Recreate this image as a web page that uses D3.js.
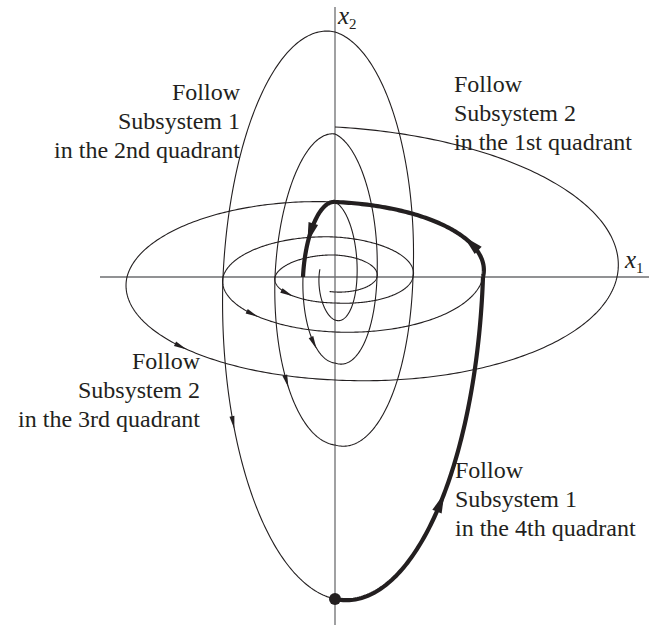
<!DOCTYPE html>
<html>
<head>
<meta charset="utf-8">
<script src="https://cdn.jsdelivr.net/npm/d3@7"></script>
<style>
    body { margin: 0; background: #fff; }
    text { font-family: "Liberation Serif", "DejaVu Serif", serif; fill: #231f20; }
</style>
</head>
<body>
<script>
// axis intercepts of each trajectory, read counter-clockwise.
// intercept number k sits at angle k*pi/2 (even k on x1, odd k on x2)
var sub1First = 2;   // first intercept on the negative x1 axis
var sub1Cross = [1.6, 4.3, 2.2, 7.5, 3.2, 8.6, 4.2, 14.3, 6.0, 16.8, 7.8, 24.5, 11.2, 32.2, 14.8];
var sub2First = 3;   // first intercept on the negative x2 axis
var sub2Cross = [1.5, 4.2, 2.2, 6.0, 2.6, 7.8, 4.0, 11.2, 5.5, 14.8, 7.5, 20.8, 10.3, 28.2, 15.0];

// thin curves, from k to k
var sub1Span = [1.84, 15];
var sub2Span = [2.9, 17];

// switched trajectory: [subsystem, from k, to k]
var switchedPath = [[1, 15, 16], [2, 12, 13], [1, 5, 6]];

// arrow heads: [subsystem, k]
var thinArrows = [[1, 6.58], [1, 10.45], [1, 14.33], [2, 6.46], [2, 10.52], [2, 14.52]];
var thickArrows = [[1, 15.55], [2, 12.33], [1, 5.62]];

var startPoint = [0, -32.2];

var labelTexts = [
    ['Follow', 'Subsystem 1', 'in the 2nd quadrant'],
    ['Follow', 'Subsystem 2', 'in the 1st quadrant'],
    ['Follow', 'Subsystem 2', 'in the 3rd quadrant'],
    ['Follow', 'Subsystem 1', 'in the 4th quadrant']
];

var width = 649, height = 630;
var x = d3.scaleLinear().domain([-23.5, 31.4]).range([100, 649]);
var y = d3.scaleLinear().domain([-34.8, 27]).range([625, 7]);

var svg = d3.select('body').append('svg').attr('width', width).attr('height', height);

// spiral through the intercepts: amplitudes grow geometrically between them
function spiral(cross, first) {
    function amp(k, parity) {
        var ks = [], vs = [];
        cross.forEach(function(v, i) {
            if ((first + i) % 2 === parity) { ks.push(first + i); vs.push(v); }
        });
        var j = 0;
        while (j < ks.length - 2 && k > ks[j + 1]) j++;
        var t = (k - ks[j]) / (ks[j + 1] - ks[j]);
        return vs[j] * Math.pow(vs[j + 1] / vs[j], t);
    }
    return function(k) {
        var th = k * Math.PI / 2;
        return [amp(k, 0) * Math.cos(th), amp(k, 1) * Math.sin(th)];
    };
}
var systems = { 1: spiral(sub1Cross, sub1First), 2: spiral(sub2Cross, sub2First) };

function sample(f, k0, k1) {
    var pts = d3.range(k0, k1, 0.01).map(f);
    pts.push(f(k1));
    return pts;
}
var line = d3.line().x(function(d) { return x(d[0]); }).y(function(d) { return y(d[1]); });

// axes
svg.append('line')
    .attr('x1', x(x.domain()[0])).attr('x2', x(x.domain()[1]))
    .attr('y1', y(0)).attr('y2', y(0))
    .attr('stroke', '#6d6e70').attr('stroke-width', 1.3);
svg.append('line')
    .attr('x1', x(0)).attr('x2', x(0))
    .attr('y1', y(y.domain()[1])).attr('y2', y(y.domain()[0]))
    .attr('stroke', '#6d6e70').attr('stroke-width', 1.3);

// thin trajectories of each subsystem
[[1, sub1Span], [2, sub2Span]].forEach(function(s) {
    svg.append('path')
        .attr('d', line(sample(systems[s[0]], s[1][0], s[1][1])))
        .attr('fill', 'none').attr('stroke', '#231f20').attr('stroke-width', 1.1);
});

// switched trajectory
switchedPath.forEach(function(p) {
    svg.append('path')
        .attr('d', line(sample(systems[p[0]], p[1], p[2])))
        .attr('fill', 'none').attr('stroke', '#231f20').attr('stroke-width', 4.2);
});

function arrow(a, len, w) {
    var f = systems[a[0]];
    var p = f(a[1]), q = f(a[1] + 0.01);
    var ang = Math.atan2(y(q[1]) - y(p[1]), x(q[0]) - x(p[0])) * 180 / Math.PI;
    svg.append('path')
        .attr('d', 'M' + len / 2 + ',0L' + (-len / 2) + ',' + (-w / 2) + 'L' + (-len / 2) + ',' + (w / 2) + 'Z')
        .attr('transform', 'translate(' + x(p[0]) + ',' + y(p[1]) + ') rotate(' + ang + ')')
        .attr('fill', '#231f20');
}
thinArrows.forEach(function(a) { arrow(a, 13, 5); });
thickArrows.forEach(function(a) { arrow(a, 20, 10); });

svg.append('circle')
    .attr('cx', x(startPoint[0])).attr('cy', y(startPoint[1])).attr('r', 6)
    .attr('fill', '#231f20');

// labels
var labelPos = [
    { x: 240, y: 100, anchor: 'end' },
    { x: 454, y: 92, anchor: 'start' },
    { x: 200, y: 369, anchor: 'end' },
    { x: 455, y: 478, anchor: 'start' }
];
labelTexts.forEach(function(lines, i) {
    var pos = labelPos[i];
    svg.append('g').selectAll('text').data(lines).enter().append('text')
        .attr('x', pos.x)
        .attr('y', function(d, j) { return pos.y + j * 29; })
        .attr('text-anchor', pos.anchor)
        .attr('font-size', 24)
        .text(function(d) { return d; });
});

function axisLabel(px, py, sub) {
    var t = svg.append('text').attr('x', px).attr('y', py).attr('font-size', 25);
    t.append('tspan').attr('font-style', 'italic').text('x');
    t.append('tspan').attr('font-size', 15).attr('dy', 5).text(sub);
}
axisLabel(625, 268, '1');
axisLabel(338, 24, '2');
</script>
</body>
</html>
